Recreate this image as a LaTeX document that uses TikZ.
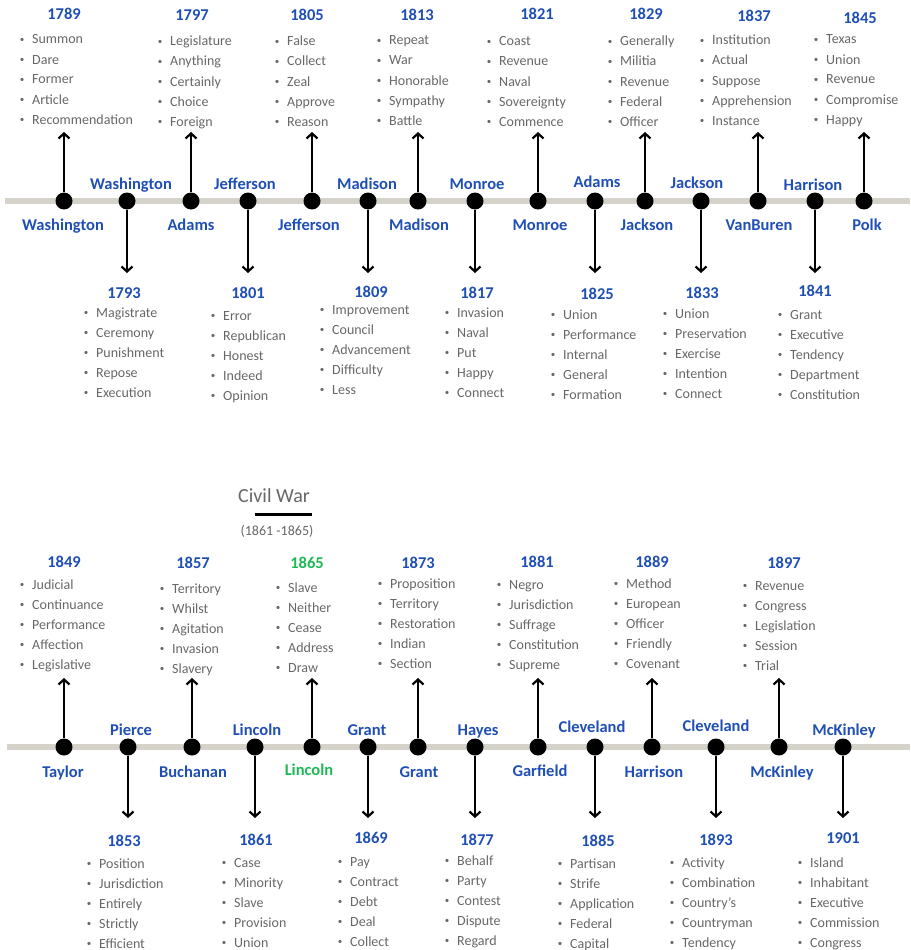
\documentclass[tikz,border=0pt]{standalone}
\usepackage{fontspec}
\setmainfont{Carlito}
\usetikzlibrary{arrows.meta}
\definecolor{pblue}{HTML}{1F4FB5}
\definecolor{pgreen}{HTML}{1DB954}
\definecolor{tgray}{HTML}{676767}
\definecolor{lgray}{HTML}{D5D2CA}
\newcommand\ev[4]{% id, dot x, line y, tip y
  \node[dotnode] (d#1) at (#2,#3) {};
  \coordinate (t#1) at (#2,#4);
  \draw[arr] (d#1) -- (t#1);}
\newcommand\yr[4]{\node[yearlbl,#4] (y#1) at (#2,#3) {#1};}
\newcommand\nm[5]{\node[pname,#5] (n#1) at (#3,#4) {#2};}
\newcommand\bul{\makebox[0pt][c]{\raisebox{1.6pt}{\fontsize{9}{9}\selectfont •}}}
\newcommand\lst[4]{%
  \foreach \w [count=\i] in {#4} {%
    \node[itemlbl] (l#1-\i) at (#2,{#3+20*(\i-1)}) {\bul\hspace{10pt}\w};}}
\begin{document}
\begin{tikzpicture}[x=1pt,y=-1pt,
  dotnode/.style={circle,fill=black,inner sep=0pt,minimum size=17pt},
  arr/.style={line width=2.2pt,-{Straight Barb[length=5pt,width=11pt]}},
  tl/.style={line width=6pt,draw=lgray},
  yearlbl/.style={font=\fontsize{16.5}{18}\selectfont\bfseries,text=pblue,anchor=base,inner sep=0pt},
  pname/.style={font=\fontsize{16.5}{18}\selectfont\bfseries,text=pblue,anchor=base,inner sep=0pt},
  itemlbl/.style={font=\fontsize{14}{16}\selectfont,text=tgray,anchor=base west,inner sep=0pt},
  civ/.style={text=pgreen}]
\useasboundingbox (0,0) rectangle (910,950);
% timelines
\coordinate (L1a) at (5,201); \coordinate (L1b) at (910,201);
\coordinate (L2a) at (7,747); \coordinate (L2b) at (910,747);
\draw[tl] (L1a) -- (L1b);
\draw[tl] (L2a) -- (L2b);
% ---------- top, up ----------
\ev{1789}{64}{201}{132} \yr{1789}{64}{20}{} \nm{a1}{Washington}{63}{230}{}
\lst{1789}{22}{44}{Summon,Dare,Former,Article,Recommendation}
\ev{1797}{191}{201}{132} \yr{1797}{192}{21}{} \nm{a2}{Adams}{191}{230}{}
\lst{1797}{160}{46}{Legislature,Anything,Certainly,Choice,Foreign}
\ev{1805}{312}{201}{132} \yr{1805}{307}{21}{} \nm{a3}{Jefferson}{309}{230}{}
\lst{1805}{277}{46}{False,Collect,Zeal,Approve,Reason}
\ev{1813}{418}{201}{132} \yr{1813}{417}{21}{} \nm{a4}{Madison}{419}{230}{}
\lst{1813}{379}{45}{Repeat,War,Honorable,Sympathy,Battle}
\ev{1821}{538}{201}{132} \yr{1821}{537}{20}{} \nm{a5}{Monroe}{540}{230}{}
\lst{1821}{489}{46}{Coast,Revenue,Naval,Sovereignty,Commence}
\ev{1829}{645}{201}{132} \yr{1829}{646}{20}{} \nm{a6}{Jackson}{647}{230}{}
\lst{1829}{610}{46}{Generally,Militia,Revenue,Federal,Officer}
\ev{1837}{758}{201}{132} \yr{1837}{754}{22}{} \nm{a7}{VanBuren}{759}{230}{}
\lst{1837}{702}{45}{Institution,Actual,Suppose,Apprehension,Instance}
\ev{1845}{864}{201}{132} \yr{1845}{860}{24}{} \nm{a8}{Polk}{867}{230}{}
\lst{1845}{816}{44}{Texas,Union,Revenue,Compromise,Happy}
% ---------- top, down ----------
\ev{1793}{127}{201}{273} \yr{1793}{124}{298}{} \nm{b1}{Washington}{131}{189}{}
\lst{1793}{86}{317}{Magistrate,Ceremony,Punishment,Repose,Execution}
\ev{1801}{248}{201}{273} \yr{1801}{248}{298}{} \nm{b2}{Jefferson}{245}{189}{}
\lst{1801}{213}{320}{Error,Republican,Honest,Indeed,Opinion}
\ev{1809}{368}{201}{273} \yr{1809}{371}{297}{} \nm{b3}{Madison}{367}{189}{}
\lst{1809}{322}{314}{Improvement,Council,Advancement,Difficulty,Less}
\ev{1817}{475}{201}{273} \yr{1817}{477}{298}{} \nm{b4}{Monroe}{477}{189}{}
\lst{1817}{447}{317}{Invasion,Naval,Put,Happy,Connect}
\ev{1825}{595}{201}{273} \yr{1825}{597}{299}{} \nm{b5}{Adams}{597}{187}{}
\lst{1825}{553}{319}{Union,Performance,Internal,General,Formation}
\ev{1833}{701}{201}{273} \yr{1833}{702}{298}{} \nm{b6}{Jackson}{697}{188}{}
\lst{1833}{665}{318}{Union,Preservation,Exercise,Intention,Connect}
\ev{1841}{815}{201}{273} \yr{1841}{815}{296}{} \nm{b7}{Harrison}{813}{190}{}
\lst{1841}{780}{319}{Grant,Executive,Tendency,Department,Constitution}
% ---------- civil war ----------
\node[font=\fontsize{20}{22}\selectfont,text=tgray,anchor=base,inner sep=0pt] (cw) at (274,502) {Civil War};
\coordinate (cwa) at (255,514); \coordinate (cwb) at (312,514);
\draw[line width=3pt] (cwa) -- (cwb);
\node[font=\fontsize{14}{16}\selectfont,text=tgray,anchor=base,inner sep=0pt] (cwy) at (277,535) {(1861 -1865)};
% ---------- bottom, up ----------
\ev{1849}{64}{747}{678} \yr{1849}{64}{567}{} \nm{c1}{Taylor}{63}{777}{}
\lst{1849}{22}{589}{Judicial,Continuance,Performance,Affection,Legislative}
\ev{1857}{192}{747}{678} \yr{1857}{193}{568}{} \nm{c2}{Buchanan}{193}{777}{}
\lst{1857}{162}{593}{Territory,Whilst,Agitation,Invasion,Slavery}
\ev{1865}{312}{747}{678} \yr{1865}{307}{568}{civ} \nm{c3}{Lincoln}{309}{775}{civ}
\lst{1865}{278}{592}{Slave,Neither,Cease,Address,Draw}
\ev{1873}{418}{747}{678} \yr{1873}{418}{568}{} \nm{c4}{Grant}{419}{777}{}
\lst{1873}{380}{588}{Proposition,Territory,Restoration,Indian,Section}
\ev{1881}{538}{747}{678} \yr{1881}{537}{567}{} \nm{c5}{Garfield}{540}{776}{}
\lst{1881}{499}{589}{Negro,Jurisdiction,Suffrage,Constitution,Supreme}
\ev{1889}{652}{747}{678} \yr{1889}{652}{567}{} \nm{c6}{Harrison}{654}{777}{}
\lst{1889}{616}{588}{Method,European,Officer,Friendly,Covenant}
\ev{1897}{779}{747}{678} \yr{1897}{784}{568}{} \nm{c7}{McKinley}{782}{777}{}
\lst{1897}{745}{590}{Revenue,Congress,Legislation,Session,Trial}
% ---------- bottom, down ----------
\ev{1853}{128}{747}{818} \yr{1853}{124}{846}{} \nm{e1}{Pierce}{131}{735}{}
\lst{1853}{89}{868}{Position,Jurisdiction,Entirely,Strictly,Efficient}
\ev{1861}{255}{747}{818} \yr{1861}{256}{845}{} \nm{e2}{Lincoln}{257}{735}{}
\lst{1861}{224}{867}{Case,Minority,Slave,Provision,Union}
\ev{1869}{368}{747}{818} \yr{1869}{371}{843}{} \nm{e3}{Grant}{367}{735}{}
\lst{1869}{340}{866}{Pay,Contract,Debt,Deal,Collect}
\ev{1877}{475}{747}{818} \yr{1877}{477}{845}{} \nm{e4}{Hayes}{478}{735}{}
\lst{1877}{447}{865}{Behalf,Party,Contest,Dispute,Regard}
\ev{1885}{595}{747}{818} \yr{1885}{598}{846}{} \nm{e5}{Cleveland}{592}{732}{}
\lst{1885}{560}{868}{Partisan,Strife,Application,Federal,Capital}
\ev{1893}{716}{747}{818} \yr{1893}{716}{845}{} \nm{e6}{Cleveland}{716}{731}{}
\lst{1893}{672}{867}{Activity,Combination,Country’s,Countryman,Tendency}
\ev{1901}{843}{747}{818} \yr{1901}{843}{843}{} \nm{e7}{McKinley}{844}{735}{}
\lst{1901}{800}{867}{Island,Inhabitant,Executive,Commission,Congress}
\end{tikzpicture}
\end{document}
